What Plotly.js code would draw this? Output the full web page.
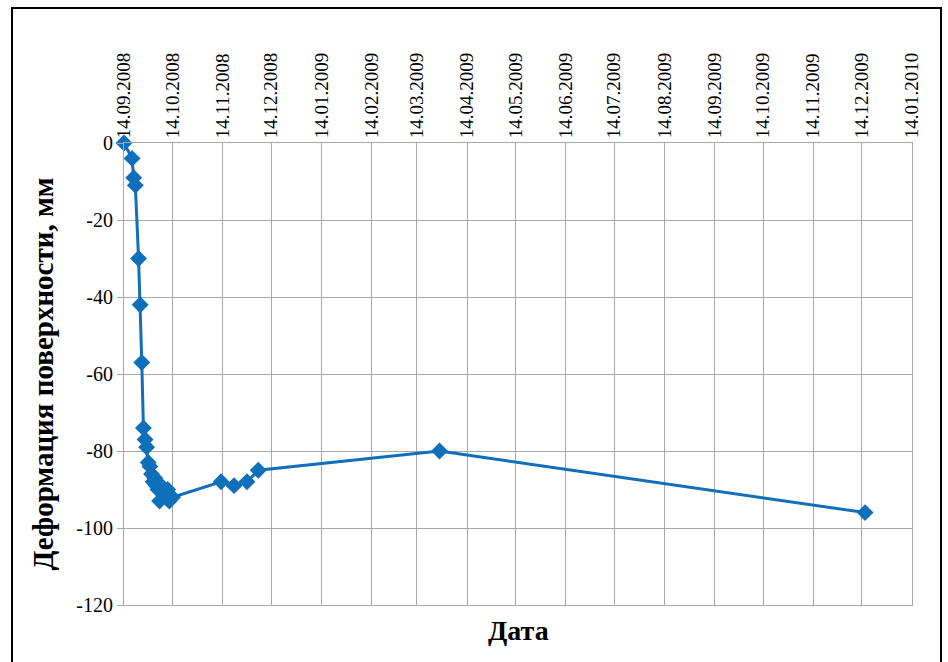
<!DOCTYPE html>
<html>
<head>
<meta charset="utf-8">
<script src="https://cdn.plot.ly/plotly-3.0.1.min.js"></script>
<style>
  html, body { margin: 0; padding: 0; background: #ffffff; }
  #chart { width: 948px; height: 662px; }
</style>
</head>
<body>
<div id="chart"></div>
<script>
// Measurement dates (ISO) and surface deformation, mm
var dates = [
  "2008-09-14", "2008-09-19", "2008-09-20", "2008-09-21", "2008-09-23",
  "2008-09-24", "2008-09-25", "2008-09-26", "2008-09-27", "2008-09-28",
  "2008-09-29", "2008-09-30", "2008-10-01", "2008-10-02", "2008-10-03",
  "2008-10-04", "2008-10-05", "2008-10-06", "2008-10-07", "2008-10-08",
  "2008-10-09", "2008-10-10", "2008-10-11", "2008-10-12", "2008-10-14",
  "2008-11-13", "2008-11-21", "2008-11-29", "2008-12-06", "2009-03-28",
  "2009-12-16"
];
var deformation = [
  0, -4, -9, -11, -30,
  -42, -57, -74, -77, -79,
  -83, -84, -86, -88, -87,
  -89, -90, -93, -89, -91,
  -90, -92, -90, -93, -92,
  -88, -89, -88, -85, -80,
  -96
];

// Axis ticks
var xTickVals = [
  "2008-09-14", "2008-10-14", "2008-11-14", "2008-12-14", "2009-01-14",
  "2009-02-14", "2009-03-14", "2009-04-14", "2009-05-14", "2009-06-14",
  "2009-07-14", "2009-08-14", "2009-09-14", "2009-10-14", "2009-11-14",
  "2009-12-14", "2010-01-14"
];
var xTickText = [
  "14.09.2008", "14.10.2008", "14.11.2008", "14.12.2008", "14.01.2009",
  "14.02.2009", "14.03.2009", "14.04.2009", "14.05.2009", "14.06.2009",
  "14.07.2009", "14.08.2009", "14.09.2009", "14.10.2009", "14.11.2009",
  "14.12.2009", "14.01.2010"
];
var yTickVals = [0, -20, -40, -60, -80, -100, -120];
var yTickText = ["0", "-20", "-40", "-60", "-80", "-100", "-120"];

var serif = "'Liberation Serif', 'Times New Roman', serif";
var blue = "#0f6fba";
var grid = "#a8a8a8";

var trace = {
  type: "scatter",
  mode: "lines+markers",
  x: dates,
  y: deformation,
  line: { color: blue, width: 3 },
  marker: { symbol: "diamond", size: 13, color: blue },
  cliponaxis: false,
  showlegend: false
};

var layout = {
  width: 948,
  height: 662,
  paper_bgcolor: "#ffffff",
  plot_bgcolor: "#ffffff",
  margin: { l: 124, r: 36, t: 143, b: 57, pad: 0 },
  xaxis: {
    type: "date",
    side: "top",
    range: ["2008-09-14", "2010-01-14"],
    tickmode: "array",
    tickvals: xTickVals,
    ticktext: xTickText,
    tickangle: -90,
    tickfont: { family: serif, size: 19, color: "#000000" },
    ticks: "",
    showgrid: true,
    gridcolor: grid,
    gridwidth: 1,
    showline: true,
    linecolor: grid,
    linewidth: 1,
    mirror: true,
    zeroline: false,
    fixedrange: true
  },
  yaxis: {
    range: [-120, 0],
    tickmode: "array",
    tickvals: yTickVals,
    ticktext: yTickText,
    tickfont: { family: serif, size: 20, color: "#000000" },
    ticks: "outside",
    ticklen: 6,
    tickcolor: grid,
    showgrid: true,
    gridcolor: grid,
    gridwidth: 1,
    showline: true,
    linecolor: grid,
    linewidth: 1,
    mirror: true,
    zeroline: false,
    automargin: false,
    title: {
      text: "Деформация поверхности, мм",
      font: { family: serif, size: 29, color: "#000000", weight: "bold" },
      standoff: 14
    },
    fixedrange: true
  },
  annotations: [
    {
      text: "<b>Дата</b>",
      xref: "paper", yref: "paper",
      x: 0.5, y: -0.055,
      xanchor: "center", yanchor: "middle",
      showarrow: false,
      font: { family: serif, size: 28, color: "#000000" }
    }
  ],
  shapes: [
    {
      type: "rect",
      xref: "paper", yref: "paper",
      x0: -0.1421, x1: 1.0368, y0: -0.14, y1: 1.2922,
      line: { color: "#000000", width: 2 },
      fillcolor: "rgba(0,0,0,0)",
      layer: "below"
    }
  ]
};

Plotly.newPlot("chart", [trace], layout, { displayModeBar: false, staticPlot: true });
</script>
</body>
</html>
